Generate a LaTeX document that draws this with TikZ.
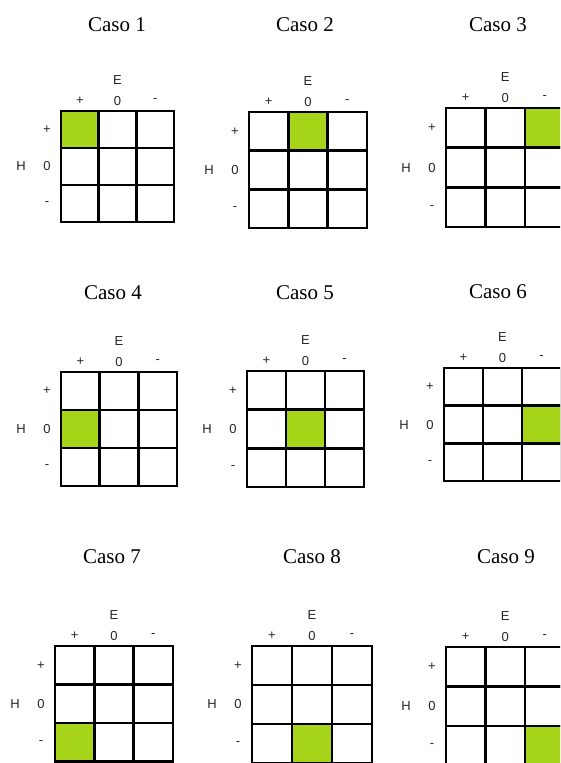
\documentclass[tikz,border=0pt]{standalone}
\usepackage{fontspec}
\setmainfont{Liberation Serif}
\setsansfont{Liberation Sans}
\usetikzlibrary{positioning}

\definecolor{cellgreen}{RGB}{165,212,25}

\tikzset{
  casetitle/.style={font=\fontsize{21}{24}\selectfont},
  axislabel/.style={font=\sffamily\fontsize{13}{15}\selectfont, text=black!85, inner sep=0pt},
  cellbox/.style={draw=black, line width=2.5pt},
  hitcell/.style={fill=cellgreen},
}

\begin{document}
\begin{tikzpicture}[x=1pt, y=-1pt]
  \useasboundingbox (0,0) rectangle (560,763);
  \clip (0,0) rectangle (560,763);
  \fill[white] (0,0) rectangle (560,763);

  % caso / left / top / cell w / cell h / title x / title y / green col / green row
  \foreach \n/\gx/\gy/\cw/\ch/\tx/\ty/\gc/\gr in {
      1/61/111/37.7/37/117/25/0/0,
      2/249/112/39.3/38.7/305/25/1/0,
      3/446/108/39.5/39.7/498/25/2/0,
      4/61/372/38.7/38/113/293/0/1,
      5/247/371/39/38.7/305/293/1/1,
      6/444/368/39/37.7/498/292/2/1,
      7/55/646/39.3/38.5/112/557/0/2,
      8/252/646/40/39/312/557/1/2,
      9/446/647/39.5/39.5/506/557/2/2}
  {
    \node[casetitle] (caso\n) at (\tx,\ty) {Caso \n};
    \begin{scope}[shift={(\gx,\gy)}]
      % highlighted cell
      \fill[hitcell] (\gc*\cw,\gr*\ch) rectangle ++(\cw,\ch);
      % 3x3 grid
      \foreach \i in {0,1,2}
        \foreach \j in {0,1,2}
          \draw[cellbox] (\i*\cw,\j*\ch) rectangle ++(\cw,\ch);
      % E axis
      \node[axislabel] (E\n) at (1.5*\cw,-31) {E};
      \node[axislabel] (Ep\n) at (0.5*\cw,-10) {+};
      \node[axislabel] (Ez\n) at (1.5*\cw,-10) {0};
      \node[axislabel] (Em\n) at (2.5*\cw,-10) {-};
      % H axis
      \node[axislabel] (H\n) at (-40,1.5*\ch) {H};
      \node[axislabel] (Hp\n) at (-14,0.5*\ch) {+};
      \node[axislabel] (Hz\n) at (-14,1.5*\ch) {0};
      \node[axislabel] (Hm\n) at (-14,2.5*\ch) {-};
    \end{scope}
  }
\end{tikzpicture}
\end{document}
